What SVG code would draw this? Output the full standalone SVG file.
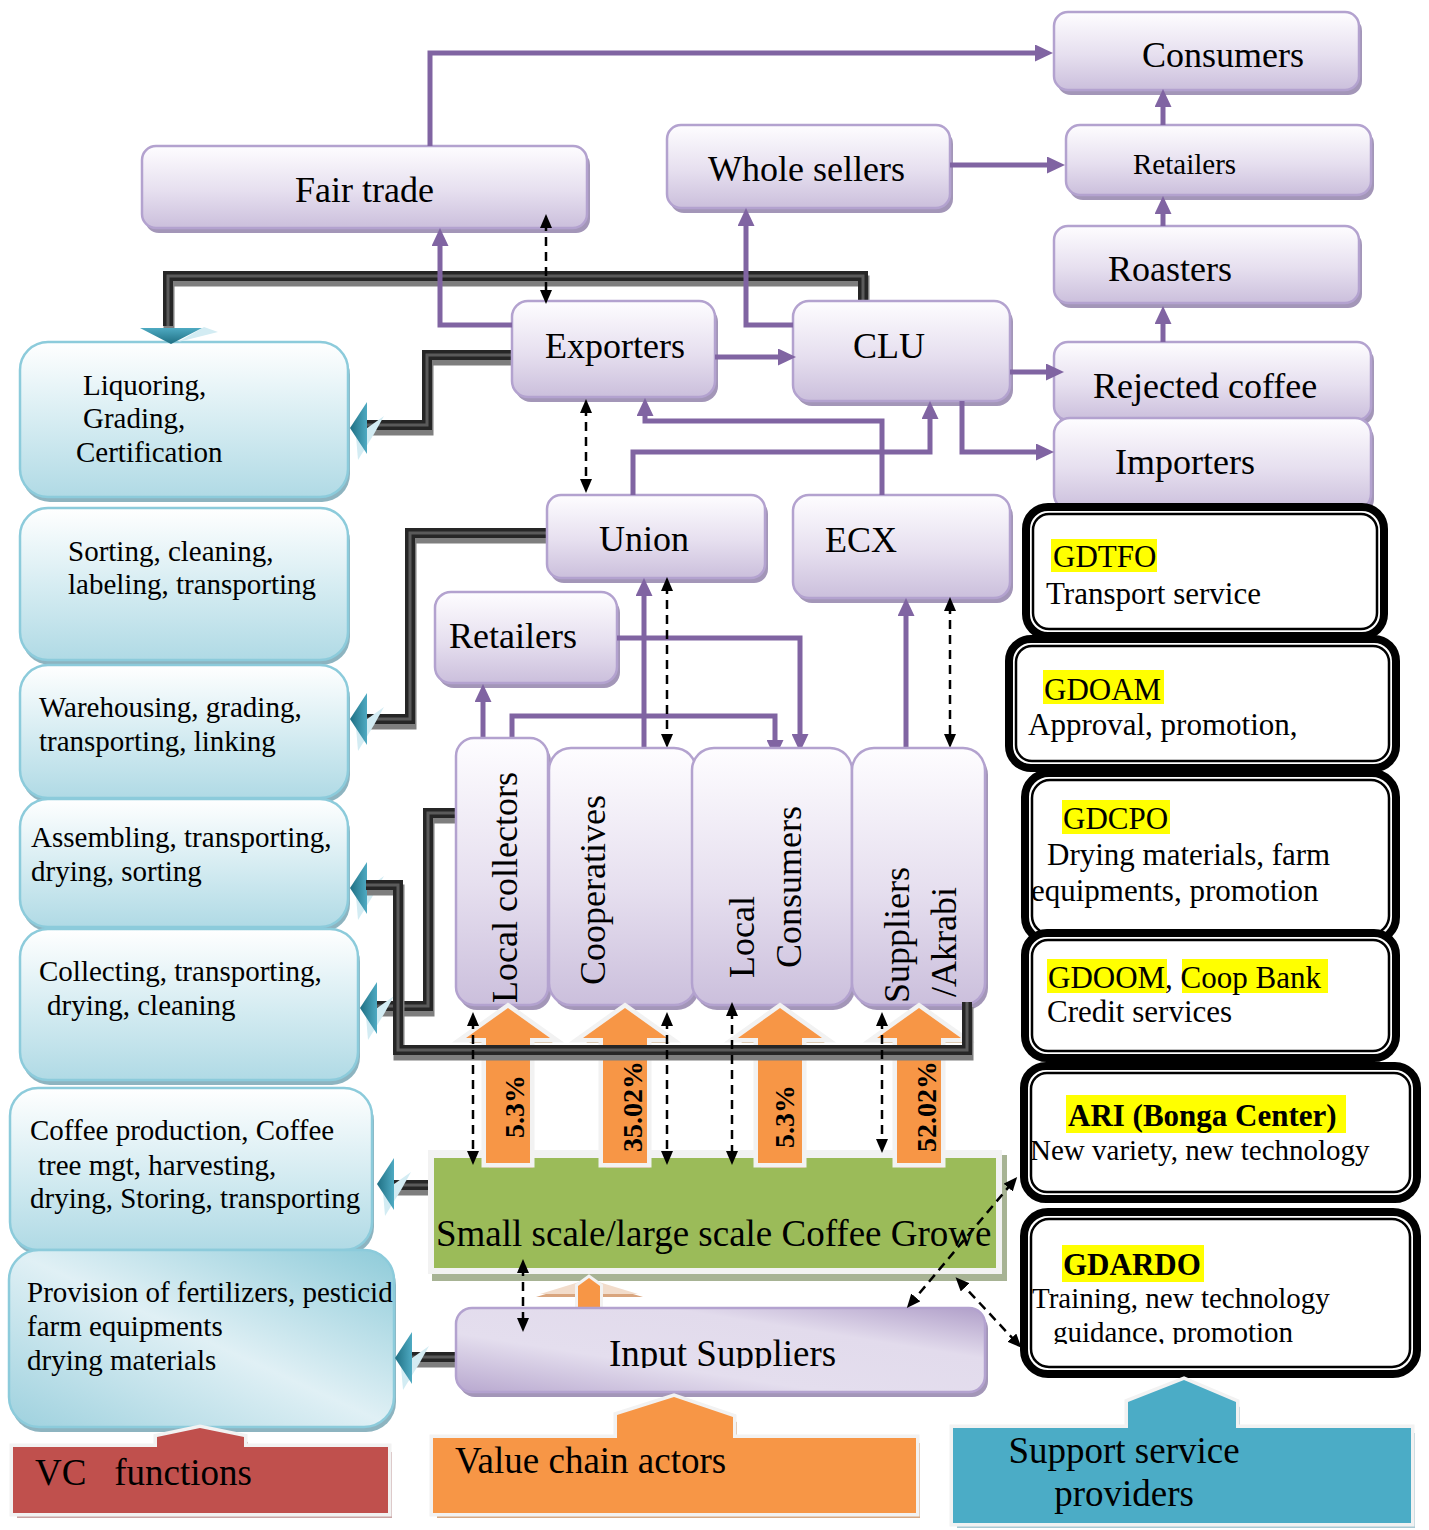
<svg xmlns="http://www.w3.org/2000/svg" xmlns:xlink="http://www.w3.org/1999/xlink" width="1429" height="1530" viewBox="0 0 1429 1530">
<defs>
<linearGradient id="gP" x1="0" y1="0" x2="0" y2="1"><stop offset="0" stop-color="#fefdff"/><stop offset="0.55" stop-color="#e6dfef"/><stop offset="1" stop-color="#cbbfdc"/></linearGradient>
<linearGradient id="gPd" x1="0" y1="1" x2="1" y2="0"><stop offset="0" stop-color="#b8a8cf"/><stop offset="0.35" stop-color="#e4deee"/><stop offset="0.7" stop-color="#e2dbec"/><stop offset="1" stop-color="#b09fc9"/></linearGradient>
<linearGradient id="gT" x1="0" y1="0" x2="0" y2="1"><stop offset="0" stop-color="#ffffff"/><stop offset="0.55" stop-color="#d3ebf1"/><stop offset="1" stop-color="#b0dae5"/></linearGradient>
<linearGradient id="gTd" x1="0" y1="1" x2="1" y2="0"><stop offset="0" stop-color="#9ed1de"/><stop offset="0.5" stop-color="#e0f0f5"/><stop offset="1" stop-color="#8ecbd9"/></linearGradient>
<linearGradient id="gTA" x1="0" y1="0" x2="1" y2="0"><stop offset="0" stop-color="#1f6f83"/><stop offset="1" stop-color="#4eaac2"/></linearGradient>
<linearGradient id="gTAv" x1="0" y1="0" x2="0" y2="1"><stop offset="0" stop-color="#4eaac2"/><stop offset="1" stop-color="#1f6f83"/></linearGradient>
<marker id="pa" viewBox="0 0 18 17" refX="6" refY="8.5" markerWidth="18" markerHeight="17" markerUnits="userSpaceOnUse" orient="auto"><path d="M0,0 L18,8.5 L0,17 Z" fill="#8064a2"/></marker>
<marker id="da" viewBox="0 0 14 12" refX="6" refY="6" markerWidth="14" markerHeight="12" markerUnits="userSpaceOnUse" orient="auto-start-reverse"><path d="M0,0 L14,6 L0,12 Z" fill="#000"/></marker>
<g id="tArrow"><polygon points="6,8 34,-12 24,6 8,32" fill="#d3ecf3"/><polygon points="0,0 17,-26 17,26" fill="url(#gTA)"/></g>
<path id="oArrow" d="M0,0 L42,30 L22,30 L22,155 L-22,155 L-22,30 L-42,30 Z"/>
<path id="p1" d="M863,302 V276 H168 V326"/>
<path id="p2" d="M512,355 H427 V425 H366"/>
<path id="p3" d="M547,533 H410 V719 H366"/>
<path id="p4" d="M458,813 H428 V1006 H374"/>
<path id="p5" d="M967,1002 V1050 H398 V885 H366"/>
<path id="p6" d="M437,1185 H392"/>
<path id="p7" d="M456,1357 H410"/>
<clipPath id="cCons"><rect x="1054" y="12" width="305" height="56"/></clipPath>
<clipPath id="cRoast"><rect x="1054" y="226" width="305" height="55"/></clipPath>
<clipPath id="cRetR"><rect x="1066" y="125" width="305" height="49"/></clipPath>
<clipPath id="cInput"><rect x="456" y="1308" width="529" height="60"/></clipPath>
<clipPath id="cGuid"><rect x="1030" y="1310" width="380" height="34"/></clipPath>
<clipPath id="cGreen"><rect x="428" y="1150" width="570" height="126"/></clipPath>
</defs>
<style>
.lbl{font-family:"Liberation Serif","Times New Roman",serif;fill:#000}
.f36{font-size:36px}
.f29{font-size:29px}
.f31{font-size:31px}
.f37{font-size:37px}
.b{font-weight:bold}
.pn{fill:url(#gP);stroke:#b3a2cf;stroke-width:2.5}
.psh{fill:#a396b8}
.tn{fill:url(#gT);stroke:#8ccbdb;stroke-width:2.5}
.tsh{fill:#8db4c0}
.sb-o{fill:#fff;stroke:#000;stroke-width:8}
.sb-i{fill:#fff;stroke:#000;stroke-width:2.5}
.hl{fill:#ffff00}
.conn{fill:none;stroke:#8064a2;stroke-width:5;marker-end:url(#pa)}
.dash{fill:none;stroke:#000;stroke-width:2.5;stroke-dasharray:9 6;marker-start:url(#da);marker-end:url(#da)}
.ps{fill:none;stroke:#7e7e7e;stroke-width:11}
.pm{fill:none;stroke:#262626;stroke-width:10}
.ph{fill:none;stroke:#5a5a5a;stroke-width:3}
.oa{fill:#f79646;stroke:#f2f2f2;stroke-width:9;paint-order:stroke;stroke-linejoin:miter}
.oas{fill:#c9a273}
.pct{font-family:"Liberation Serif","Times New Roman",serif;font-weight:bold;font-size:28px;fill:#000}
</style>
<rect width="1429" height="1530" fill="#fff"/>

<!-- VC function boxes -->
<g id="fn-liquoring"><rect x="22" y="347" width="328" height="155" rx="28" class="tsh"/><rect x="20" y="342" width="328" height="155" rx="28" class="tn"/>
<text class="lbl f29" x="83" y="395">Liquoring,</text><text class="lbl f29" x="83" y="428">Grading,</text><text class="lbl f29" x="76" y="462">Certification</text></g>
<g id="fn-sorting"><rect x="22" y="513" width="328" height="152" rx="28" class="tsh"/><rect x="20" y="508" width="328" height="152" rx="28" class="tn"/>
<text class="lbl f29" x="68" y="561">Sorting, cleaning,</text><text class="lbl f29" x="68" y="594">labeling, transporting</text></g>
<g id="fn-warehousing"><rect x="22" y="670" width="328" height="133" rx="28" class="tsh"/><rect x="20" y="665" width="328" height="133" rx="28" class="tn"/>
<text class="lbl f29" x="39" y="717">Warehousing, grading,</text><text class="lbl f29" x="39" y="751">transporting, linking</text></g>
<g id="fn-assembling"><rect x="22" y="804" width="328" height="128" rx="28" class="tsh"/><rect x="20" y="799" width="328" height="128" rx="28" class="tn"/>
<text class="lbl f29" x="31" y="847">Assembling, transporting,</text><text class="lbl f29" x="31" y="881">drying, sorting</text></g>
<g id="fn-collecting"><rect x="22" y="934" width="338" height="151" rx="28" class="tsh"/><rect x="20" y="929" width="338" height="151" rx="28" class="tn"/>
<text class="lbl f29" x="39" y="981">Collecting, transporting,</text><text class="lbl f29" x="47" y="1015">drying, cleaning</text></g>
<g id="fn-production"><rect x="12" y="1093" width="362" height="162" rx="28" class="tsh"/><rect x="10" y="1088" width="362" height="162" rx="28" class="tn"/>
<text class="lbl f29" x="30" y="1140">Coffee production, Coffee</text><text class="lbl f29" x="38" y="1175">tree mgt, harvesting,</text><text class="lbl f29" x="30" y="1208">drying, Storing, transporting</text></g>
<g id="fn-provision"><rect x="11" y="1255" width="385" height="177" rx="30" class="tsh"/><rect x="9" y="1250" width="385" height="177" rx="30" fill="url(#gTd)" stroke="#8ccbdb" stroke-width="2.5"/>
<text class="lbl f29" x="27" y="1302">Provision of fertilizers, pesticid</text><text class="lbl f29" x="27" y="1336">farm equipments</text><text class="lbl f29" x="27" y="1370">drying materials</text></g>

<!-- pipe connectors (function links) -->
<g id="pipes">
<use href="#p1" class="ps" transform="translate(1,5)"/><use href="#p1" class="pm"/><use href="#p1" class="ph"/>
<use href="#p2" class="ps" transform="translate(1,5)"/><use href="#p2" class="pm"/><use href="#p2" class="ph"/>
<use href="#p3" class="ps" transform="translate(1,5)"/><use href="#p3" class="pm"/><use href="#p3" class="ph"/>
<use href="#p4" class="ps" transform="translate(1,5)"/><use href="#p4" class="pm"/><use href="#p4" class="ph"/>
<use href="#p6" class="ps" transform="translate(1,5)"/><use href="#p6" class="pm"/><use href="#p6" class="ph"/>
<use href="#p7" class="ps" transform="translate(1,5)"/><use href="#p7" class="pm"/><use href="#p7" class="ph"/>
<polygon points="178,342 218,332 204,327" fill="#d3ecf3"/>
<polygon points="140,328 202,328 171,344" fill="url(#gTAv)"/>
<use href="#tArrow" x="350" y="428"/>
<use href="#tArrow" x="350" y="719"/>
<use href="#tArrow" x="350" y="888"/>
<use href="#tArrow" x="360" y="1008"/>
<use href="#tArrow" x="377" y="1184"/>
<use href="#tArrow" x="395" y="1358"/>
</g>

<!-- purple nodes -->
<g id="n-consumers"><rect x="1057" y="17" width="305" height="78" rx="14" class="psh"/><rect x="1054" y="12" width="305" height="78" rx="14" class="pn"/>
<text class="lbl f36" x="1142" y="67" clip-path="url(#cCons)">Consumers</text></g>
<g id="n-wholesellers"><rect x="670" y="130" width="283" height="83" rx="14" class="psh"/><rect x="667" y="125" width="283" height="83" rx="14" class="pn"/>
<text class="lbl f36" x="708" y="181">Whole sellers</text></g>
<g id="n-retailers-r"><rect x="1069" y="130" width="305" height="70" rx="14" class="psh"/><rect x="1066" y="125" width="305" height="70" rx="14" class="pn"/>
<text class="lbl f29" x="1133" y="174" clip-path="url(#cRetR)">Retailers</text></g>
<g id="n-roasters"><rect x="1057" y="231" width="305" height="77" rx="14" class="psh"/><rect x="1054" y="226" width="305" height="77" rx="14" class="pn"/>
<text class="lbl f36" x="1108" y="281" clip-path="url(#cRoast)">Roasters</text></g>
<g id="n-fairtrade"><rect x="145" y="151" width="445" height="82" rx="14" class="psh"/><rect x="142" y="146" width="445" height="82" rx="14" class="pn"/>
<text class="lbl f36" x="295" y="202">Fair trade</text></g>
<g id="n-exporters"><rect x="515" y="306" width="203" height="96" rx="16" class="psh"/><rect x="512" y="301" width="203" height="96" rx="16" class="pn"/>
<text class="lbl f36" x="545" y="358">Exporters</text></g>
<g id="n-clu"><rect x="796" y="306" width="217" height="100" rx="16" class="psh"/><rect x="793" y="301" width="217" height="100" rx="16" class="pn"/>
<text class="lbl f36" x="853" y="358">CLU</text></g>
<g id="n-rejected"><rect x="1057" y="347" width="317" height="78" rx="14" class="psh"/><rect x="1054" y="342" width="317" height="78" rx="14" class="pn"/>
<text class="lbl f36" x="1093" y="398">Rejected coffee</text></g>
<g id="n-importers"><rect x="1057" y="423" width="317" height="92" rx="16" class="psh"/><rect x="1054" y="418" width="317" height="92" rx="16" class="pn"/>
<text class="lbl f36" x="1115" y="474">Importers</text></g>
<g id="n-union"><rect x="550" y="500" width="218" height="83" rx="14" class="psh"/><rect x="547" y="495" width="218" height="83" rx="14" class="pn"/>
<text class="lbl f36" x="599" y="551">Union</text></g>
<g id="n-ecx"><rect x="796" y="500" width="217" height="103" rx="16" class="psh"/><rect x="793" y="495" width="217" height="103" rx="16" class="pn"/>
<text class="lbl f36" x="825" y="552">ECX</text></g>
<g id="n-retailers-m"><rect x="438" y="597" width="182" height="91" rx="16" class="psh"/><rect x="435" y="592" width="182" height="91" rx="16" class="pn"/>
<text class="lbl f36" x="449" y="648">Retailers</text></g>

<!-- flow connectors -->
<g id="connectors">
<path class="conn" d="M430,146 V53 H1041"/>
<path class="conn" d="M512,325 H440 V240"/>
<path class="conn" d="M715,357 H784"/>
<path class="conn" d="M793,325 H746 V220"/>
<path class="conn" d="M950,165 H1053"/>
<path class="conn" d="M1163,125 V101"/>
<path class="conn" d="M1163,226 V208"/>
<path class="conn" d="M1163,342 V318"/>
<path class="conn" d="M1010,372 H1052"/>
<path class="conn" d="M962,401 V452 H1042"/>
<path class="conn" d="M633,495 V452 H930 V413"/>
<path class="conn" d="M882,495 V421 H645 V410"/>
<path class="conn" d="M644,748 V590"/>
<path class="conn" d="M617,638 H800 V740"/>
<path class="conn" d="M512,738 V716 H775 V746"/>
<path class="conn" d="M483,738 V696"/>
<path class="conn" d="M906,750 V610"/>
<path class="dash" d="M546,222 V296"/>
<path class="dash" d="M586,407 V485"/>
<path class="dash" d="M667,585 V740"/>
<path class="dash" d="M950,605 V740"/>
</g>

<!-- actor columns -->
<g id="n-localcollectors"><rect x="459" y="743" width="92" height="267" rx="18" class="psh"/><rect x="456" y="738" width="92" height="267" rx="18" class="pn"/>
<text class="lbl f36" transform="translate(517,1003) rotate(-90)">Local collectors</text></g>
<g id="n-cooperatives"><rect x="552" y="753" width="147" height="257" rx="22" class="psh"/><rect x="549" y="748" width="147" height="257" rx="22" class="pn"/>
<text class="lbl f36" transform="translate(605,985) rotate(-90)">Cooperatives</text></g>
<g id="n-localconsumers"><rect x="695" y="753" width="160" height="257" rx="22" class="psh"/><rect x="692" y="748" width="160" height="257" rx="22" class="pn"/>
<text class="lbl f36" transform="translate(754,978) rotate(-90)">Local</text>
<text class="lbl f36" transform="translate(801,968) rotate(-90)">Consumers</text></g>
<g id="n-suppliers"><rect x="855" y="753" width="133" height="257" rx="22" class="psh"/><rect x="852" y="748" width="133" height="257" rx="22" class="pn"/>
<text class="lbl f36" transform="translate(909,1003) rotate(-90)">Suppliers</text>
<text class="lbl f36" transform="translate(956,997) rotate(-90)">/Akrabi</text></g>

<!-- green growers box -->
<g id="n-growers">
<rect x="432" y="1155" width="575" height="126" fill="#a7b394"/>
<rect x="428" y="1150" width="574" height="124" fill="#f2f2f2"/>
<rect x="434" y="1158" width="562" height="110" fill="#9bbb59"/>
<text class="lbl f37" x="436" y="1246" clip-path="url(#cGreen)">Small scale/large scale Coffee Growe</text>
</g>

<!-- share arrows -->
<g id="share-arrows">
<use href="#oArrow" class="oas" transform="translate(511,1013)"/><use href="#oArrow" class="oa" transform="translate(508,1008)"/>
<use href="#oArrow" class="oas" transform="translate(628,1013)"/><use href="#oArrow" class="oa" transform="translate(625,1008)"/>
<use href="#oArrow" class="oas" transform="translate(783,1013)"/><use href="#oArrow" class="oa" transform="translate(780,1008)"/>
<use href="#oArrow" class="oas" transform="translate(922,1013)"/><use href="#oArrow" class="oa" transform="translate(919,1008)"/>
<text class="pct" transform="translate(524,1138) rotate(-90)">5.3%</text>
<text class="pct" transform="translate(642,1152) rotate(-90)">35.02%</text>
<text class="pct" transform="translate(794,1148) rotate(-90)">5.3%</text>
<text class="pct" transform="translate(936,1152) rotate(-90)">52.02%</text>
</g>

<!-- bottom bar pipe -->
<g id="pipe-bar">
<use href="#p5" class="ps" transform="translate(1,5)"/><use href="#p5" class="pm"/><use href="#p5" class="ph"/>
</g>

<!-- input suppliers -->
<g id="n-inputsuppliers">
<polygon points="536,1297 643,1297 589,1281" fill="#d9a57e"/>
<polygon points="540,1294 638,1294 589,1279" fill="#f2dccb"/>
<path d="M578,1286 L589,1278 L600,1286 V1312 H578 Z" fill="#f79646" stroke="#f2f2f2" stroke-width="6" paint-order="stroke"/>
<rect x="459" y="1313" width="529" height="84" rx="16" class="psh"/>
<rect x="456" y="1308" width="529" height="84" rx="16" fill="url(#gPd)" stroke="#b3a2cf" stroke-width="2.5"/>
<text class="lbl f37" x="609" y="1366" clip-path="url(#cInput)">Input Suppliers</text>
</g>

<!-- lower dashed connectors -->
<g id="connectors-lower">
<path class="dash" d="M473,1020 V1157"/>
<path class="dash" d="M667,1020 V1157"/>
<path class="dash" d="M732,1010 V1157"/>
<path class="dash" d="M882,1020 V1145"/>
<path class="dash" d="M523,1267 V1324"/>
<path class="dash" d="M1012,1183 L912,1302"/>
<path class="dash" d="M1016,1342 L961,1283"/>
</g>

<!-- support service boxes -->
<g id="s-gdtfo"><rect x="1026" y="507" width="358" height="129" rx="22" class="sb-o"/><rect x="1033" y="514" width="344" height="115" rx="16" class="sb-i"/>
<rect x="1051" y="539" width="106" height="33" class="hl"/>
<text class="lbl f31" x="1053" y="567">GDTFO</text><text class="lbl f31" x="1046" y="604">Transport service</text></g>
<g id="s-gdoam"><rect x="1009" y="639" width="387" height="129" rx="22" class="sb-o"/><rect x="1016" y="646" width="373" height="115" rx="16" class="sb-i"/>
<rect x="1043" y="670" width="121" height="34" class="hl"/>
<text class="lbl f31" x="1044" y="700">GDOAM</text><text class="lbl f31" x="1028" y="735">Approval, promotion,</text></g>
<g id="s-gdcpo"><rect x="1025" y="773" width="371" height="168" rx="24" class="sb-o"/><rect x="1032" y="780" width="357" height="154" rx="18" class="sb-i"/>
<rect x="1062" y="800" width="108" height="34" class="hl"/>
<text class="lbl f31" x="1063" y="829">GDCPO</text><text class="lbl f31" x="1047" y="865">Drying materials, farm</text><text class="lbl f31" x="1031" y="901">equipments, promotion</text></g>
<g id="s-gdoom"><rect x="1025" y="933" width="371" height="125" rx="22" class="sb-o"/><rect x="1032" y="940" width="357" height="111" rx="16" class="sb-i"/>
<rect x="1047" y="959" width="120" height="34" class="hl"/><rect x="1182" y="959" width="146" height="34" class="hl"/>
<text class="lbl f31" x="1048" y="988">GDOOM, Coop Bank</text><text class="lbl f31" x="1047" y="1022">Credit services</text></g>
<g id="s-ari"><rect x="1024" y="1066" width="393" height="133" rx="22" class="sb-o"/><rect x="1031" y="1073" width="379" height="119" rx="16" class="sb-i"/>
<rect x="1066" y="1095" width="280" height="38" class="hl"/>
<text class="lbl f31 b" x="1068" y="1126">ARI (Bonga Center)</text><text class="lbl f29" x="1030" y="1160">New variety, new technology</text></g>
<g id="s-gdardo"><rect x="1024" y="1212" width="393" height="162" rx="24" class="sb-o"/><rect x="1031" y="1219" width="379" height="148" rx="18" class="sb-i"/>
<rect x="1062" y="1245" width="142" height="37" class="hl"/>
<text class="lbl f31 b" x="1063" y="1275">GDARDO</text><text class="lbl f29" x="1032" y="1308">Training, new technology</text>
<text class="lbl f29" x="1053" y="1342" clip-path="url(#cGuid)">guidance, promotion</text></g>

<!-- legend -->
<g id="legend-vc">
<path d="M17,1452 H161 V1442 L204,1433 L248,1442 V1452 H392 V1518 H17 Z" fill="#c9a3a2"/>
<path d="M13,1447 H157 V1437 L200,1428 L244,1437 V1447 H388 V1513 H13 Z" fill="#c0504d" stroke="#f2f2f2" stroke-width="7" paint-order="stroke"/>
<text class="lbl f37" x="35" y="1485" xml:space="preserve">VC   functions</text>
</g>
<g id="legend-actors">
<path d="M437,1443 H621 V1420 L678,1402 L737,1422 V1443 H920 V1518 H437 Z" fill="#d7a883"/>
<path d="M433,1438 H617 V1415 L674,1397 L733,1417 V1438 H916 V1513 H433 Z" fill="#f79646" stroke="#f2f2f2" stroke-width="7" paint-order="stroke"/>
<text class="lbl f37" x="455" y="1473">Value chain actors</text>
</g>
<g id="legend-support">
<path d="M957,1433 H1132 V1407 L1188,1385 L1240,1407 V1433 H1415 V1528 H957 Z" fill="#a9c9d3"/>
<path d="M953,1428 H1128 V1402 L1184,1380 L1236,1402 V1428 H1411 V1523 H953 Z" fill="#4bacc6" stroke="#f2f2f2" stroke-width="7" paint-order="stroke"/>
<text class="lbl f37" x="1124" y="1463" text-anchor="middle">Support service</text>
<text class="lbl f37" x="1124" y="1506" text-anchor="middle">providers</text>
</g>
</svg>
